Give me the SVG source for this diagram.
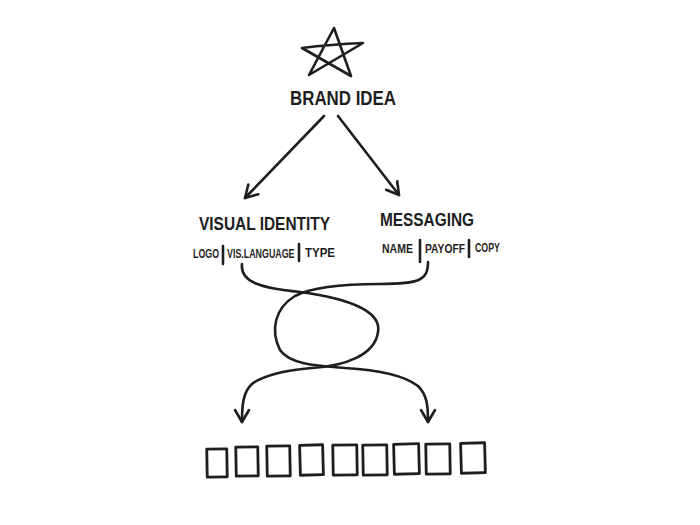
<svg xmlns="http://www.w3.org/2000/svg" width="700" height="525" viewBox="0 0 700 525">
<style>
.ink{fill:none;stroke:#1e1e1e;stroke-width:2.6;stroke-linecap:round;stroke-linejoin:round}
.big{font-family:"Liberation Sans",Arial,sans-serif;font-weight:bold;fill:#1e1e1e}
.small{font-family:"Liberation Sans",Arial,sans-serif;font-weight:bold;font-size:12px;fill:#1e1e1e}
.box{fill:none;stroke:#1e1e1e;stroke-width:2.8;stroke-linejoin:round}
</style>
<defs>
<marker id="v" markerUnits="userSpaceOnUse" markerWidth="24" markerHeight="24" refX="0" refY="0" viewBox="-14 -12 24 24" orient="auto">
<path d="M-12,-7 L0,0 L-12,7" fill="none" stroke="#1e1e1e" stroke-width="2.6" stroke-linecap="round" stroke-linejoin="round"/>
</marker>
</defs>
<rect width="700" height="525" fill="#ffffff"/>
<g id="brand-idea">
<path class="ink" d="M334,28 L309,75 L363,43 C340,44 318,46 302,48 L351,76 L334,28"/>
<text class="big" x="290" y="105" font-size="20" textLength="106" lengthAdjust="spacingAndGlyphs">BRAND IDEA</text>
</g>
<g id="visual-identity">
<text class="big" x="199" y="230" font-size="19" textLength="131" lengthAdjust="spacingAndGlyphs">VISUAL IDENTITY</text>
<text class="small" x="193" y="258" textLength="26" lengthAdjust="spacingAndGlyphs">LOGO</text>
<path class="ink" d="M223,246 L223,264 M299,244 L299,261"/>
<text class="small" transform="translate(227,258) scale(0.74,1)">VIS.LANGUAGE</text>
<text class="small" x="305" y="257" textLength="30" lengthAdjust="spacingAndGlyphs">TYPE</text>
</g>
<g id="messaging">
<text class="big" x="380" y="226" font-size="19" textLength="94" lengthAdjust="spacingAndGlyphs">MESSAGING</text>
<text class="small" x="382" y="253" textLength="31" lengthAdjust="spacingAndGlyphs">NAME</text>
<path class="ink" d="M420,240 L420,262 M469,240 L469,257"/>
<text class="small" x="425" y="253" textLength="40" lengthAdjust="spacingAndGlyphs">PAYOFF</text>
<text class="small" x="475" y="252" textLength="25" lengthAdjust="spacingAndGlyphs">COPY</text>
</g>
<g id="outputs">
<rect class="box" x="207" y="449" width="20" height="28" transform="rotate(-1 217 463)"/>
<rect class="box" x="236" y="447" width="22" height="29" transform="rotate(-1 247 461)"/>
<rect class="box" x="267" y="446" width="23" height="30" transform="rotate(-1 278 461)"/>
<rect class="box" x="300" y="445" width="23" height="30" transform="rotate(-1.5 311 460)"/>
<rect class="box" x="333" y="445" width="24" height="30" transform="rotate(-1 345 460)"/>
<rect class="box" x="363" y="445" width="24" height="30" transform="rotate(-1 375 460)"/>
<rect class="box" x="394" y="444" width="25" height="30" transform="rotate(-1.5 406 459)"/>
<rect class="box" x="426" y="444" width="24" height="30" transform="rotate(-1 438 459)"/>
<rect class="box" x="461" y="443" width="24" height="30" transform="rotate(-1.5 473 458)"/>
</g>
<g id="connectors">
<path class="ink" d="M324,116 L245,198" marker-end="url(#v)"/>
<path class="ink" d="M338,116 L399,195" marker-end="url(#v)"/>
<path class="ink" d="M242,264 C240,282 260,288 300,292 C345,298 382,310 378,332 C375,355 345,366 312,368 C285,370 262,376 252,384 C243,392 242,405 242,422" marker-end="url(#v)"/>
<path class="ink" d="M428,262 C428,280 420,284 380,284 C340,284 310,288 295,296 C275,308 270,330 280,350 C290,365 320,366 345,368 C380,370 405,376 418,386 C427,395 428,405 428,422" marker-end="url(#v)"/>
</g>
</svg>
